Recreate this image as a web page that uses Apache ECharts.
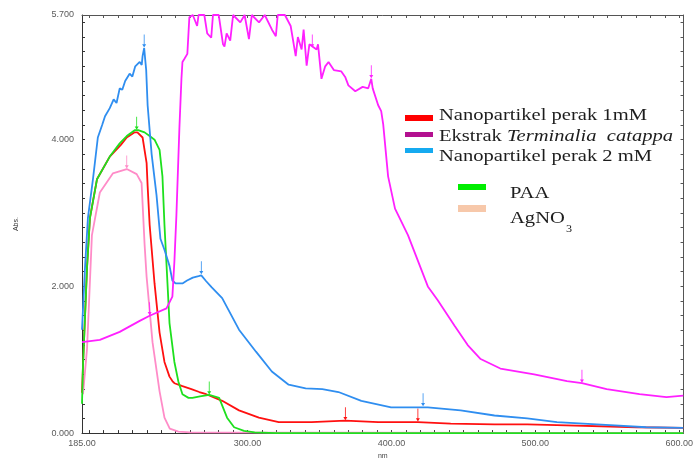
<!DOCTYPE html>
<html>
<head>
<meta charset="utf-8">
<script src="https://cdn.jsdelivr.net/npm/echarts@6/dist/echarts.min.js"></script>
<style>
html,body{margin:0;padding:0;background:#fff;}
#chart{width:696px;height:465px;}
</style>
</head>
<body>
<div id="chart"></div>
<script>
// ---- data (wavelength nm, absorbance) ----
const xLabelValues = [185, 300, 400, 500, 600];
const yLabelValues = [0, 2, 4, 5.7];

const blue2mM = [
  [185,1.41],[187.1,2.26],[189.1,2.93],[192.6,3.46],[196.0,4.03],[199,4.20],[201,4.32],[204.3,4.43],
  [207,4.55],[209,4.50],[211.2,4.70],[213,4.68],[215,4.80],[218.1,4.90],[220,4.86],[222,5.00],
  [225.1,5.06],[226.5,5.02],[227.1,5.14],[228.2,5.25],[228.8,5.12],[229.6,4.95],[230.6,4.47],
  [233.4,3.80],[236.8,3.24],[239.5,2.65],[242.3,2.50],[245.8,2.28],[247.8,2.08],[250,2.04],
  [254.8,2.04],[258,2.08],[262,2.12],[266,2.14],[267.9,2.15],[271.3,2.07],[275,1.99],[282.4,1.84],
  [294.1,1.41],[305.9,1.11],[316.9,0.84],[328.6,0.66],[340.4,0.61],[352,0.60],[363.2,0.56],
  [379.1,0.44],[399.8,0.35],[425.3,0.35],[448.1,0.31],[471.6,0.24],[494.4,0.20],[515,0.15],
  [542.7,0.12],[577,0.08],[602.8,0.07]
];
const red1mM = [
  [185,0.55],[185.7,0.93],[188.5,2.26],[190.5,2.93],[195.4,3.46],[204.3,3.77],[212,3.93],
  [216.1,4.03],[221.6,4.10],[223.5,4.10],[227.1,4.03],[229.9,3.68],[230.6,3.37],[232.0,2.84],
  [235.4,2.04],[238.9,1.37],[242.3,0.97],[245.8,0.77],[247.8,0.71],[249.2,0.68],[254.8,0.64],
  [261,0.60],[266.5,0.56],[271.3,0.53],[282.4,0.44],[294.1,0.31],[307.9,0.21],[321.7,0.15],
  [344.5,0.15],[368,0.17],[390.8,0.15],[418.4,0.15],[441.2,0.13],[471.6,0.12],[494.4,0.12],
  [515,0.11],[570.5,0.08],[602.8,0.07]
];
const paa = [
  [185,0.40],[185.7,0.93],[188.5,2.26],[190.5,2.93],[195.4,3.46],[204.3,3.77],[211.2,3.95],
  [216.1,4.05],[221.6,4.13],[224,4.13],[228.5,4.10],[232,4.05],[235.4,4.00],[238.9,3.86],
  [240.9,3.50],[242.3,2.84],[244.4,2.04],[245.8,1.50],[249.2,0.97],[252,0.70],[254.8,0.53],
  [259,0.48],[261.7,0.48],[267,0.50],[273.4,0.52],[280.3,0.48],[285.8,0.21],[290.7,0.08],
  [297.6,0.03],[305,0.01],[320,0.0],[602.8,0.0]
];
const agno3 = [
  [185.7,0.53],[188.5,1.15],[191.9,2.70],[197.4,3.28],[206.4,3.54],[216.1,3.60],[223,3.53],
  [226.4,3.41],[228.5,2.57],[229.9,2.13],[234.0,1.24],[238.9,0.57],[242.3,0.21],[246,0.06],
  [252,0.02],[260,0.01],[602.8,0.0]
];
const ekstrak = [
  [185,1.24],[197.4,1.27],[211.2,1.38],[225.1,1.53],[232,1.60],[243.7,1.70],[247.8,1.86],
  [249.2,2.34],[250.6,2.97],[252.7,4.17],[254.1,4.83],[254.8,5.06],[256.1,5.10],[258.2,5.17],
  [259.6,5.67],[262,5.70],[265,5.55],[266,5.70],[270,5.70],[272,5.45],[274.8,5.39],[276,5.70],
  [280,5.70],[283,5.30],[284,5.27],[285.5,5.45],[288,5.35],[290,5.70],[295,5.60],[298,5.70],
  [301,5.37],[303,5.70],[308,5.60],[312,5.70],[317,5.50],[319.7,5.41],[321,5.70],[326,5.70],
  [330,5.55],[333.5,5.14],[335,5.40],[337.6,5.23],[339,5.50],[341.1,5.01],[343,5.30],[348,5.23],
  [349,5.30],[351.4,4.83],[354,5.00],[356.3,5.06],[360,4.95],[365.2,4.93],[368,4.85],[370.1,4.74],
  [374.9,4.66],[380,4.72],[383.9,4.70],[386,4.83],[387,4.70],[390.8,4.47],[392.9,4.39],[394.3,4.21],
  [397.7,3.50],[402.5,3.06],[411.5,2.70],[425.3,2.00],[432.2,1.81],[444.0,1.46],[453.0,1.20],
  [462.0,1.01],[475.7,0.88],[499.2,0.80],[522,0.71],[532.4,0.68],[549.6,0.60],[572.4,0.53],
  [591.1,0.49],[602.8,0.51]
];

// peak markers (nm, abs)
const bluePeaks = [[228.2,5.25],[267.9,2.16],[422,0.36]];
const redPeaks = [[368,0.17],[418.4,0.15]];
const paaPeaks = [[223,4.13],[273.4,0.52]];
const agno3Peaks = [[216.1,3.60]];
const ekstrakPeaks = [[232,1.60],[345,5.25],[386,4.83],[532.4,0.68]];

const xMinorTicks = [];
for (let v = 190; v <= 600; v += 10) xMinorTicks.push(v);
const yMinorTicks = [];
for (let i = 1; i <= 28; i++) yMinorTicks.push(Math.round(i * 0.2 * 10) / 10);

const arrowSymbol = 'path://M4.6,0 L5.4,0 L5.4,9 L7,9 L5,12 L3,9 L4.6,9 Z';
function marks(list, color) {
  return {
    symbol: arrowSymbol,
    symbolSize: [4, 13],
    symbolOffset: [0, -7],
    itemStyle: { color: color },
    label: { show: false },
    data: list.map(c => ({ coord: c }))
  };
}

const chart = echarts.init(document.getElementById('chart'), null, { renderer: 'canvas' });
const axisColor = '#333';
const labelStyle = { fontSize: 9, color: '#5a5a5a', fontFamily: 'Liberation Sans, Arial' };
const serif = 'Liberation Serif, Times New Roman, serif';
const txtColor = '#1d1d1d';

function line(name, data, color, z, peaks) {
  return {
    name: name, type: 'line', data: data, showSymbol: false, symbol: 'none',
    xAxisIndex: 0, yAxisIndex: 0, z: z, silent: true,
    lineStyle: { color: color, width: 1.8 },
    markPoint: marks(peaks, color)
  };
}

chart.setOption({
  animation: false,
  backgroundColor: '#fff',
  grid: { left: 82, top: 15, width: 605, height: 428, containLabel: false },
  xAxis: [
    {
      type: 'value', min: 185, max: 603, position: 'bottom',
      name: 'nm', nameLocation: 'middle', nameGap: 15,
      nameTextStyle: { fontSize: 7, color: '#444' },
      axisLine: { show: true, onZero: false, lineStyle: { color: axisColor, width: 1 } },
      axisTick: { show: true, inside: true, length: 3, customValues: xMinorTicks, lineStyle: { color: axisColor } },
      axisLabel: Object.assign({ customValues: xLabelValues, formatter: v => v.toFixed(2), margin: 6, showMinLabel: true, showMaxLabel: true }, labelStyle),
      splitLine: { show: false }
    },
    {
      type: 'value', min: 185, max: 603, position: 'top',
      axisLine: { show: true, onZero: false, lineStyle: { color: '#555', width: 1 } },
      axisTick: { show: true, inside: true, length: 3, customValues: xMinorTicks, lineStyle: { color: '#555' } },
      axisLabel: { show: false },
      splitLine: { show: false }
    }
  ],
  yAxis: [
    {
      type: 'value', min: 0, max: 5.7, position: 'left',
      name: 'Abs.', nameLocation: 'middle', nameGap: 62, nameRotate: 90,
      nameTextStyle: { fontSize: 7, color: '#333' },
      axisLine: { show: true, onZero: false, lineStyle: { color: axisColor, width: 1 } },
      axisTick: { show: true, inside: true, length: 3, customValues: yMinorTicks, lineStyle: { color: axisColor } },
      axisLabel: Object.assign({ customValues: yLabelValues, formatter: v => v.toFixed(3), margin: 8, showMinLabel: true, showMaxLabel: true }, labelStyle),
      splitLine: { show: false }
    },
    {
      type: 'value', min: 0, max: 5.7, position: 'right',
      axisLine: { show: true, onZero: false, lineStyle: { color: '#555', width: 1 } },
      axisTick: { show: true, inside: true, length: 3, customValues: yMinorTicks, lineStyle: { color: '#555' } },
      axisLabel: { show: false },
      splitLine: { show: false }
    }
  ],
  series: [
    line('AgNO3', agno3, '#ff8cc8', 2, agno3Peaks),
    line('Nanopartikel perak 1mM', red1mM, '#ff1010', 3, redPeaks),
    line('PAA', paa, '#1ee01e', 4, paaPeaks),
    line('Nanopartikel perak 2 mM', blue2mM, '#2f8ef0', 5, bluePeaks),
    line('Ekstrak Terminalia catappa', ekstrak, '#ff20ff', 6, ekstrakPeaks)
  ],
  graphic: [
    { type: 'rect', left: 405, top: 115, shape: { width: 28, height: 6 }, style: { fill: '#ff0000' } },
    { type: 'text', x: 439, y: 116, scaleX: 1.21, style: { text: 'Nanopartikel perak 1mM', fontFamily: serif, fontSize: 17, fill: txtColor, verticalAlign: 'middle' } },
    { type: 'rect', left: 405, top: 132, shape: { width: 28, height: 5 }, style: { fill: '#b3108f' } },
    { type: 'text', x: 439, y: 137, scaleX: 1.21, style: {
        text: 'Ekstrak {i|Terminalia  catappa}', fontFamily: serif, fontSize: 17, fill: txtColor, verticalAlign: 'middle',
        rich: { i: { fontStyle: 'italic', fontFamily: serif, fontSize: 17, fill: txtColor } } } },
    { type: 'rect', left: 405, top: 148, shape: { width: 28, height: 5 }, style: { fill: '#15aaf0' } },
    { type: 'text', x: 439, y: 157, scaleX: 1.21, style: { text: 'Nanopartikel perak 2 mM', fontFamily: serif, fontSize: 17, fill: txtColor, verticalAlign: 'middle' } },
    { type: 'rect', left: 458, top: 184, shape: { width: 28, height: 6 }, style: { fill: '#00ee00' } },
    { type: 'text', x: 510, y: 194, scaleX: 1.21, style: { text: 'PAA', fontFamily: serif, fontSize: 17, fill: txtColor, verticalAlign: 'middle' } },
    { type: 'rect', left: 458, top: 205, shape: { width: 28, height: 7 }, style: { fill: '#f7c8aa' } },
    { type: 'text', x: 510, y: 219, scaleX: 1.21, style: { text: 'AgNO', fontFamily: serif, fontSize: 17, fill: txtColor, verticalAlign: 'middle' } },
    { type: 'text', x: 566, y: 229, scaleX: 1.1, style: { text: '3', fontFamily: serif, fontSize: 11, fill: txtColor, verticalAlign: 'middle' } }
  ]
});
</script>
</body>
</html>
